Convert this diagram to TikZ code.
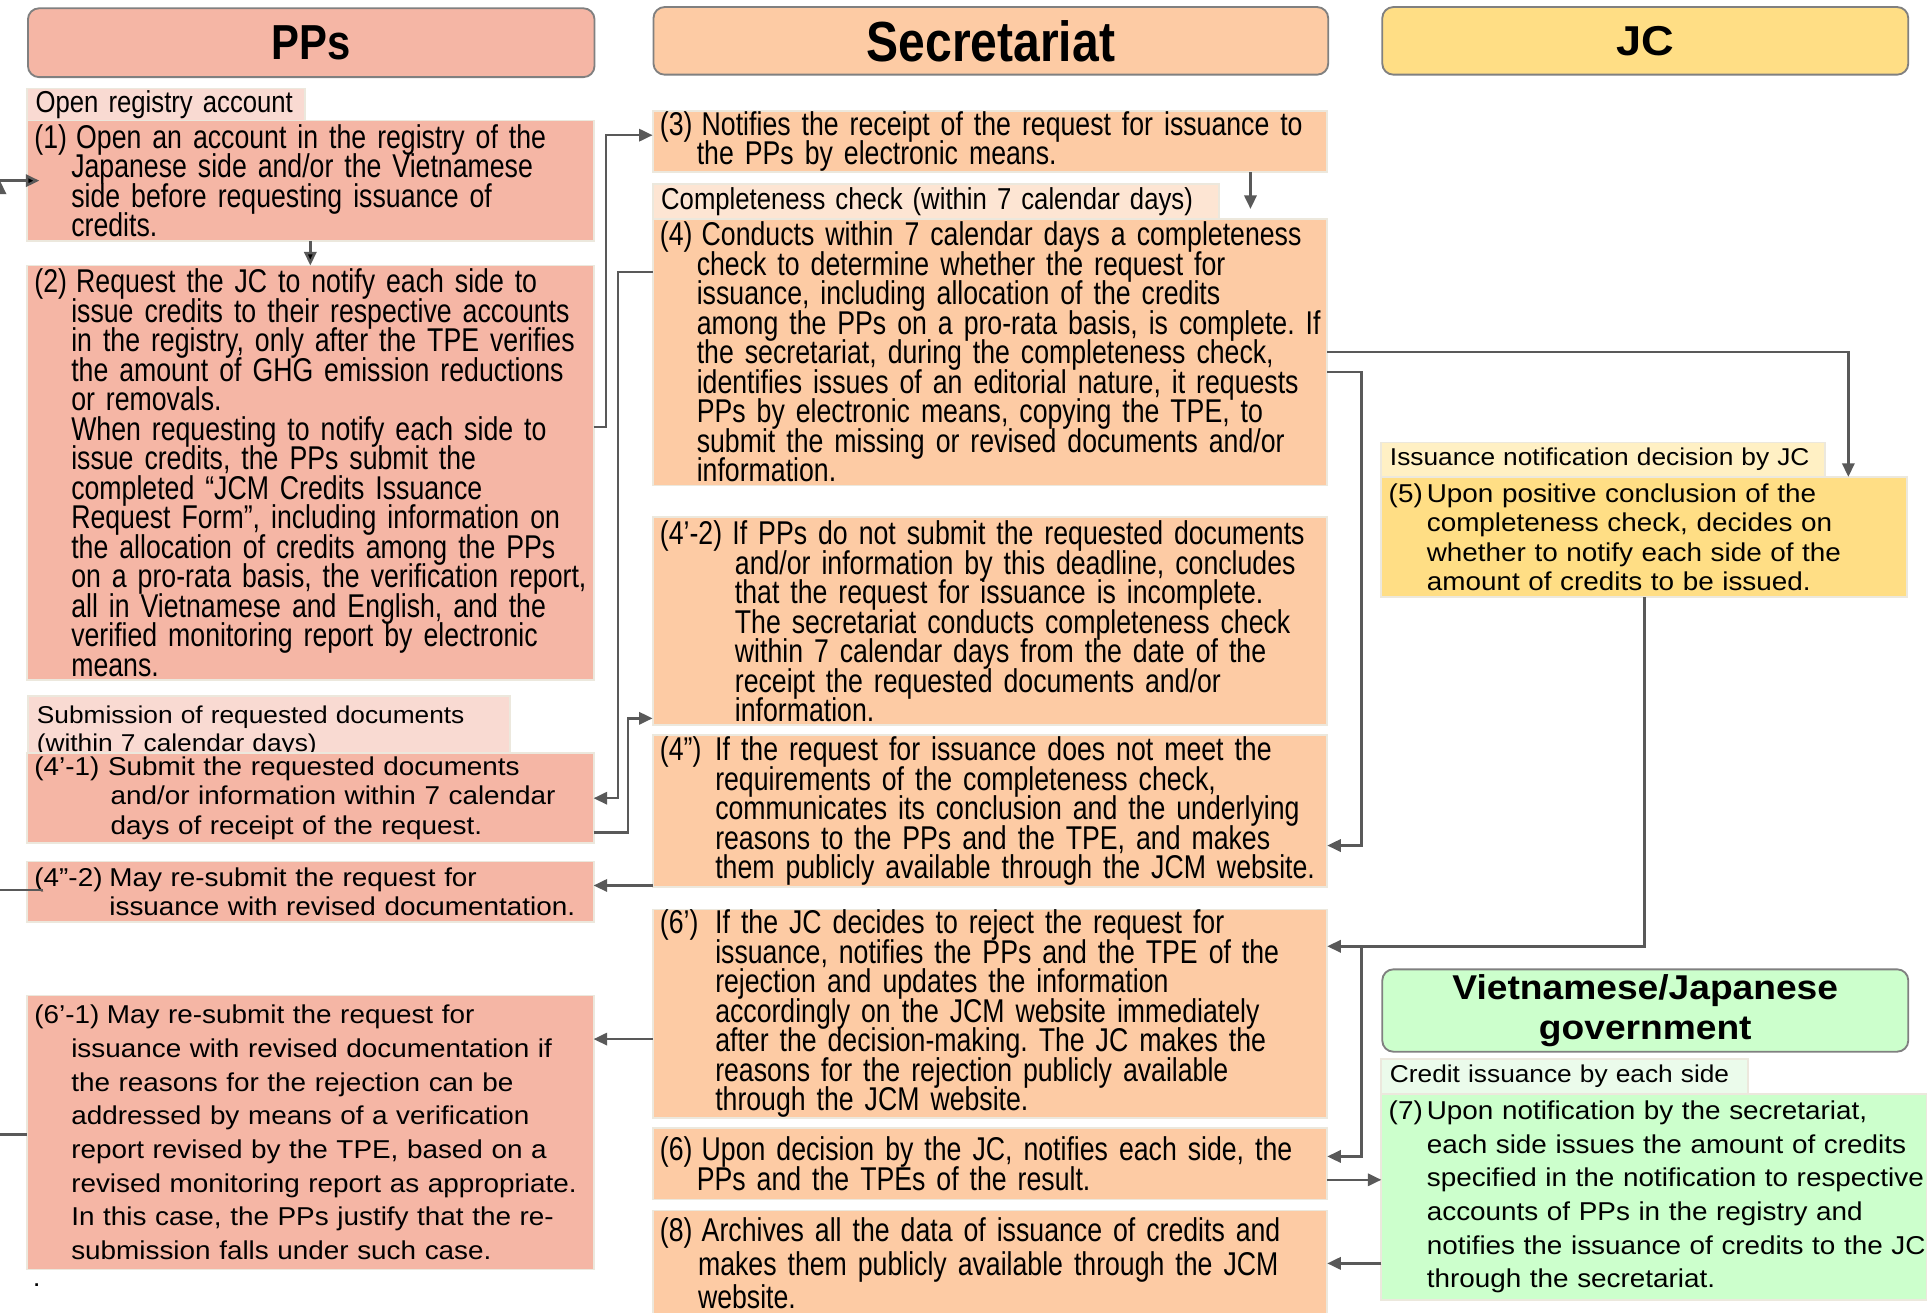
\documentclass[tikz,border=0pt]{standalone}
\usepackage{fontspec}
\usetikzlibrary{arrows.meta,positioning}

\newfontfamily\nfont{Liberation Sans}[FakeStretch=0.81]
\newfontfamily\hfont{Liberation Sans}[FakeStretch=0.85]
\newfontfamily\rfont{Liberation Sans}[FakeStretch=1.08]
\frenchspacing

\definecolor{ppfill}{HTML}{F5B6A5}
\definecolor{pptab}{HTML}{F9DAD2}
\definecolor{secfill}{HTML}{FDCBA4}
\definecolor{sectab}{HTML}{FDE5D3}
\definecolor{jcfill}{HTML}{FFDE85}
\definecolor{jctab}{HTML}{FFF0C4}
\definecolor{govfill}{HTML}{CCFFCC}
\definecolor{govtab}{HTML}{EBFBEB}
\definecolor{boxline}{HTML}{ECE8DD}
\definecolor{headline}{HTML}{808080}
\definecolor{linkc}{HTML}{595959}

\newcommand\nbody{\nfont\fontsize{26.8}{24}\selectfont}
\newcommand\nbodyw{\nfont\fontsize{26.8}{27.5}\selectfont}
\newcommand\rbody{\rfont\fontsize{21}{24}\selectfont}
\newcommand\rbodyw{\rfont\fontsize{21}{27.4}\selectfont}
\newcommand\ntab{\hfont\fontsize{24.6}{23}\selectfont}
\newcommand\rtab{\rfont\fontsize{19.8}{23}\selectfont}
% hanging label: indent, label box width, label, text
\newcommand\lbl[4]{\let\\\newline\hangindent=#1\hangafter=1\rightskip=-60pt plus 1fil\parfillskip=0pt plus 1fil\lineskiplimit=-100pt\relax
    \noindent\makebox[#2][l]{#3}#4\par}
\newcommand\nw[1]{\let\\\newline\rightskip=-60pt plus 1fil\parfillskip=0pt plus 1fil\lineskiplimit=-100pt\relax\noindent#1\par}

\begin{document}
\begin{tikzpicture}[x=1pt,y=-1pt,>={Triangle[length=11pt,width=10pt]},
    box/.style={draw=boxline,line width=1.5pt,inner xsep=6pt,inner ysep=0pt,outer sep=0pt,anchor=north west},
    ppbox/.style={box,fill=ppfill,text width=449pt,font=\nbody},
    secbox/.style={box,fill=secfill,text width=537pt,font=\nbody},
    jcbox/.style={box,fill=jcfill,text width=416pt,font=\rbody},
    govbox/.style={box,fill=govfill,text width=432pt,font=\rbodyw},
    tab/.style={draw=boxline,line width=1.5pt,inner xsep=7pt,inner ysep=0pt,outer sep=0pt,minimum height=28pt},
    head/.style={draw=headline,line width=1.5pt,rounded corners=9pt,anchor=north west,inner sep=0pt,align=center},
    link/.style={draw=linkc,line width=2pt}]
    \fill[white] (0,0) rectangle (1568,1068);
    \useasboundingbox (0,0) rectangle (1568,1068);

    % headers
    \node[head,fill=ppfill,minimum width=461pt,minimum height=56pt,font=\hfont\bfseries\fontsize{40}{40}\selectfont] (h_pp) at (22,6) {PPs};
    \node[head,fill=secfill,minimum width=549pt,minimum height=55pt,font=\hfont\bfseries\fontsize{46}{46}\selectfont] (h_sec) at (531,5) {Secretariat};
    \node[head,fill=jcfill,minimum width=428pt,minimum height=55pt,font=\rfont\bfseries\fontsize{34}{34}\selectfont] (h_jc) at (1124,5) {JC};
    \node[head,fill=govfill,minimum width=428pt,minimum height=67pt,font=\rfont\bfseries\fontsize{28}{32}\selectfont] (h_gov) at (1124,788) {Vietnamese/Japanese\\government};

    % PPs column
    \node[ppbox,minimum height=98pt] (pp_1) at (22,98) {\lbl{30pt}{34pt}{(1)}{Open an account in the registry of the\\
        Japanese side and/or the Vietnamese\\side before requesting issuance of\\credits.}};
    \node[tab,fill=pptab,text width=212pt,minimum height=26pt,font=\ntab,above right=0pt of pp_1.north west] (t_1) {\nw{Open registry account}};
    \node[ppbox,minimum height=337pt,below=20pt of pp_1] (pp_2) {\lbl{30pt}{34pt}{(2)}{Request the JC to notify each side to\\
        issue credits to their respective accounts\\in the registry, only after the TPE verifies\\
        the amount of GHG emission reductions\\or removals.\\When requesting to notify each side to\\
        issue credits, the PPs submit the\\completed “JCM Credits Issuance\\
        Request Form”, including information on\\the allocation of credits among the PPs\\
        on a pro-rata basis, the verification report,\\all in Vietnamese and English, and the\\
        verified monitoring report by electronic\\means.}};
    \node[tab,fill=pptab,text width=378pt,minimum height=58pt,font=\rtab,anchor=north west] (t_41) at (23,566) {\nw{Submission of requested documents\\(within 7 calendar days)}};
    \node[ppbox,font=\rbody,minimum height=73pt] (pp_41) at (22,613) {\lbl{62pt}{60pt}{(4’-1)}{Submit the requested documents\\
        and/or information within 7 calendar\\days of receipt of the request.}};
    \node[ppbox,font=\rbody,minimum height=49pt,below=15pt of pp_41] (pp_42) {\lbl{61pt}{61pt}{(4”-2)}{May re-submit the request for\\
        issuance with revised documentation.}};
    \node[ppbox,font=\rbodyw,minimum height=223pt,below=60pt of pp_42] (pp_61) {\lbl{30pt}{59pt}{(6’-1)}{May re-submit the request for\\
        issuance with revised documentation if\\the reasons for the rejection can be\\
        addressed by means of a verification\\report revised by the TPE, based on a\\
        revised monitoring report as appropriate.\\In this case, the PPs justify that the re-\\
        submission falls under such case.}};
    \node[font=\rbody,inner sep=0pt] (dot) at (30,1046) {.};

    % Secretariat column
    \node[secbox,minimum height=50pt] (sec_3) at (531,90) {\lbl{30pt}{34pt}{(3)}{Notifies the receipt of the request for issuance to\\
        the PPs by electronic means.}};
    \node[secbox,minimum height=217pt,below=38pt of sec_3] (sec_4) {\lbl{30pt}{34pt}{(4)}{Conducts within 7 calendar days a completeness\\
        check to determine whether the request for\\issuance, including allocation of the credits\\
        among the PPs on a pro-rata basis, is complete. If\\the secretariat, during the completeness check,\\
        identifies issues of an editorial nature, it requests\\PPs by electronic means, copying the TPE, to\\
        submit the missing or revised documents and/or\\information.}};
    \node[tab,fill=sectab,text width=447pt,font=\ntab,above right=0pt of sec_4.north west] (t_4) {\nw{Completeness check (within 7 calendar days)}};
    \node[secbox,minimum height=169pt,below=26pt of sec_4] (sec_41) {\lbl{61pt}{59pt}{(4’-2)}{If PPs do not submit the requested documents\\
        and/or information by this deadline, concludes\\that the request for issuance is incomplete.\\
        The secretariat conducts completeness check\\within 7 calendar days from the date of the\\
        receipt the requested documents and/or\\information.}};
    \node[secbox,minimum height=124pt,below=8pt of sec_41] (sec_4b) {\lbl{45pt}{45pt}{(4”)}{If the request for issuance does not meet the\\
        requirements of the completeness check,\\communicates its conclusion and the underlying\\
        reasons to the PPs and the TPE, and makes\\them publicly available through the JCM website.}};
    \node[secbox,minimum height=170pt,below=18pt of sec_4b] (sec_6p) {\lbl{45pt}{45pt}{(6’)}{If the JC decides to reject the request for\\
        issuance, notifies the PPs and the TPE of the\\rejection and updates the information\\
        accordingly on the JCM website immediately\\after the decision-making. The JC makes the\\
        reasons for the rejection publicly available\\through the JCM website.}};
    \node[secbox,minimum height=58pt,below=8pt of sec_6p] (sec_6) {\lbl{30pt}{34pt}{(6)}{Upon decision by the JC, notifies each side, the\\
        PPs and the TPEs of the result.}};
    \node[secbox,font=\nbodyw,minimum height=86pt,below=9pt of sec_6] (sec_8) {\lbl{31pt}{34pt}{(8)}{Archives all the data of issuance of credits and\\
        makes them publicly available through the JCM\\website.}};

    % JC and government column
    \node[jcbox,minimum height=98pt] (jc_5) at (1124,388) {\lbl{31pt}{31pt}{(5)}{Upon positive conclusion of the\\
        completeness check, decides on\\whether to notify each side of the\\amount of credits to be issued.}};
    \node[tab,fill=jctab,text width=347pt,font=\rtab,above right=0pt of jc_5.north west] (t_5) {\nw{Issuance notification decision by JC}};
    \node[govbox,minimum height=168pt] (gov_7) at (1124,890) {\lbl{31pt}{31pt}{(7)}{Upon notification by the secretariat,\\
        each side issues the amount of credits\\specified in the notification to respective\\
        accounts of PPs in the registry and\\notifies the issuance of credits to the JC\\through the secretariat.}};
    \node[tab,fill=govtab,text width=284pt,font=\rtab,above right=0pt of gov_7.north west] (t_7) {\nw{Credit issuance by each side}};

    % connectors
    \coordinate (in_1) at (0,147);
    \coordinate (in_42) at (0,724);
    \coordinate (in_61) at (0,923);
    \coordinate (a_42) at ([yshift=5pt]pp_42.east);
    \coordinate (a_61) at ([yshift=76pt]pp_61.east);
    \coordinate (a_7) at ([yshift=-13pt]sec_6.east);
    \coordinate (j_6) at ([xshift=28pt,yshift=55pt]sec_6p.east);

    \path[link,->] (in_1) edge[shorten >=-10pt] (pp_1)
        (pp_1) edge (pp_2);
    \draw[link] (in_42) -- (in_42 -| pp_42.west) -- ++(13,0);
    \draw[link] (in_61) -- (in_61 -| pp_61.west);
    \draw[link,->] ([yshift=37pt]pp_2.east) -- ++(10,0) |- ([yshift=5pt]sec_3.west);
    \draw[link,->,shorten >=8pt] ([xshift=212pt]sec_3.south) -- ([xshift=212pt]sec_4.north);
    \draw[link,->] ([yshift=65pt]sec_4.west) -- ++(-28,0) |- (pp_41.east);
    \draw[link,->] ([yshift=-28pt]pp_41.east) -- ++(28,0) |- ([yshift=-79pt]sec_41.west);
    \draw[link,->] (sec_4.east) -| ([xshift=166pt]jc_5.north);
    \draw[link,->] ([yshift=-16pt]sec_4.east) -- ++(28,0) |- ([yshift=-28pt]sec_4b.east);
    \draw[link,->] (sec_4b.west |- a_42) -- (a_42);
    \draw[link,->] (jc_5.south) |- ([yshift=55pt]sec_6p.east);
    \draw[link,->] (j_6) |- ([yshift=6pt]sec_6.east);
    \draw[link,->] (sec_6p.west |- a_61) -- (a_61);
    \draw[link,->] (a_7) -- (a_7 -| gov_7.west);
    \draw[link,->] (gov_7.west |- sec_8.east) -- (sec_8.east);
\end{tikzpicture}
\end{document}
